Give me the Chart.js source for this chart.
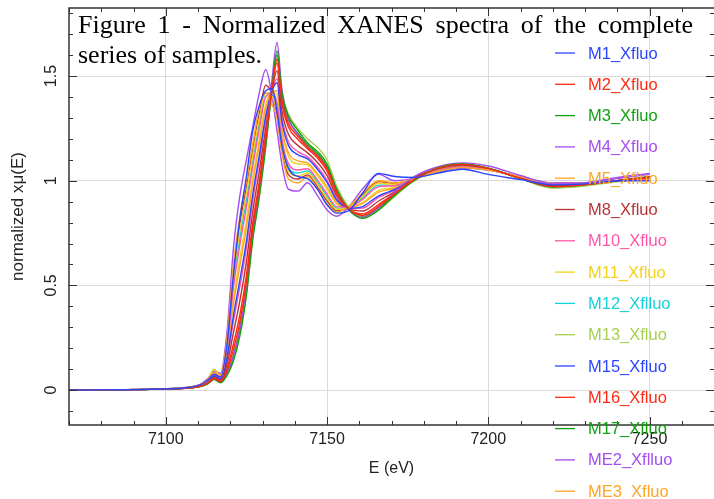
<!DOCTYPE html>
<html>
<head>
<meta charset="utf-8">
<script src="https://cdn.jsdelivr.net/npm/chart.js@4"></script>
<style>
  html, body { margin: 0; padding: 0; background: #fff; }
  #wrap { width: 714px; height: 499px; position: relative; }
</style>
</head>
<body>
<div id="wrap"><canvas id="xanes"></canvas></div>
<script>
// energy grid (eV)
const energy = [7070, 7095, 7106, 7111, 7113, 7115, 7117, 7119, 7121, 7123, 7125, 7127, 7129, 7131, 7133, 7134.5, 7136, 7138, 7141, 7144, 7147, 7150, 7153, 7157, 7161, 7166, 7171, 7177, 7184, 7192, 7200, 7210, 7220, 7230, 7240, 7250];

// normalized x-mu(E), one array per sample
const m1   = [0, .004, .011, .027, .048, .074, .062, .22, .55, .82, 1.02, 1.24, 1.36, 1.43, 1.44, 1.33, 1.17, 1.06, 1.02, 1.01, .96, .885, .845, .86, .94, 1.035, 1.02, 1.015, 1.035, 1.055, 1.03, 1.005, .98, .985, 1.0, 1.0];
const m2   = [0, .003, .008, .019, .033, .054, .040, .091, .194, .327, .515, .774, .97, 1.197, 1.445, 1.582, 1.386, 1.275, 1.211, 1.161, 1.119, 1.058, .947, .862, .834, .877, .937, 1.005, 1.058, 1.078, 1.059, 1.011, .972, .981, 1.0, 1.018];
const m3   = [0, .003, .008, .018, .030, .050, .035, .070, .140, .260, .450, .720, .920, 1.160, 1.450, 1.620, 1.420, 1.310, 1.240, 1.180, 1.140, 1.080, .960, .860, .820, .860, .930, 1.000, 1.060, 1.080, 1.060, 1.010, .970, .980, 1.000, 1.020];
const m4   = [0, .003, .008, .019, .032, .053, .038, .08, .16, .29, .48, .75, .95, 1.19, 1.49, 1.66, 1.44, 1.30, 1.22, 1.16, 1.12, 1.06, .95, .855, .825, .87, .945, 1.02, 1.065, 1.085, 1.07, 1.025, .985, .99, 1.015, 1.035];
const m5   = [0, .004, .011, .028, .051, .084, .073, .25, .60, .83, 1.00, 1.18, 1.35, 1.42, 1.36, 1.30, 1.13, 1.01, .99, 1.02, .96, .89, .85, .88, .94, 1.00, .99, 1.01, 1.043, 1.063, 1.051, 1.018, .987, .988, 1.0, 1.003];
const m8   = [0, .0033, .009, .021, .036, .060, .046, .123, .275, .428, .613, .855, 1.045, 1.253, 1.438, 1.525, 1.335, 1.223, 1.168, 1.133, 1.088, 1.025, .928, .865, .855, .903, .948, 1.015, 1.055, 1.075, 1.058, 1.013, .975, .983, 1.0, 1.015];
const m10  = [0, .004, .011, .026, .046, .076, .064, .207, .491, .696, .873, 1.071, 1.245, 1.401, 1.418, 1.373, 1.199, 1.083, 1.052, 1.057, 1.004, .937, .876, .873, .911, .971, .976, 1.01, 1.047, 1.067, 1.054, 1.017, .983, .987, 1.0, 1.007];
const m11  = [0, .004, .011, .027, .049, .098, .069, .228, .545, .763, .938, 1.125, 1.295, 1.42, 1.40, 1.335, 1.165, 1.048, 1.023, 1.038, .983, .915, .863, .875, .925, .988, .983, 1.005, 1.045, 1.065, 1.053, 1.018, .985, .988, 1.0, 1.005];
const m12  = [0, .004, .011, .026, .048, .100, .067, .217, .518, .729, .905, 1.098, 1.27, 1.419, 1.415, 1.354, 1.182, 1.065, 1.037, 1.047, .993, .926, .869, .874, .918, .979, .979, 1.01, 1.046, 1.066, 1.053, 1.017, .984, .987, 1.0, 1.006];
const m13  = [0, .003, .008, .018, .031, .052, .037, .075, .15, .275, .465, .735, .935, 1.17, 1.44, 1.58, 1.42, 1.32, 1.25, 1.20, 1.16, 1.10, .975, .87, .825, .86, .925, 1.0, 1.05, 1.075, 1.06, 1.01, .965, .975, .995, 1.01];
const m15  = [0, .0034, .0096, .023, .040, .066, .053, .154, .356, .528, .71, .936, 1.12, 1.308, 1.43, 1.468, 1.284, 1.17, 1.124, 1.104, 1.056, .992, .908, .868, .876, .928, .958, 1.01, 1.052, 1.072, 1.056, 1.014, .978, .984, 1.0, 1.012];
const m16  = [0, .0032, .0086, .0198, .034, .056, .042, .102, .221, .361, .548, .801, .995, 1.216, 1.443, 1.563, 1.369, 1.258, 1.197, 1.152, 1.109, 1.047, .941, .863, .841, .886, .941, 1.01, 1.057, 1.077, 1.059, 1.012, .973, .982, 1.0, 1.017];
const m17  = [0, .003, .008, .0186, .031, .052, .037, .081, .167, .294, .483, .747, .945, 1.179, 1.448, 1.601, 1.403, 1.293, 1.226, 1.171, 1.130, 1.069, .954, .861, .827, .869, .934, 1.01, 1.059, 1.079, 1.060, 1.011, .971, .981, 1.0, 1.019];
const me2  = [0, .004, .012, .030, .055, .090, .080, .280, .680, .930, 1.100, 1.260, 1.420, 1.530, 1.400, 1.240, 1.080, .960, .950, .990, .930, .860, .830, .880, .960, 1.030, 1.000, 1.010, 1.040, 1.060, 1.050, 1.020, .990, .990, 1.010, 1.030];
const me3  = [0, .0035, .010, .024, .043, .070, .058, .175, .41, .595, .775, .99, 1.17, 1.345, 1.425, 1.43, 1.25, 1.135, 1.095, 1.085, 1.035, .97, .895, .87, .89, .945, .965, 1.01, 1.05, 1.07, 1.055, 1.015, .98, .985, 1.0, 1.01];
const me4  = [0, .004, .011, .028, .050, .082, .071, .238, .572, .796, .97, 1.152, 1.32, 1.456, 1.41, 1.316, 1.148, 1.03, 1.008, 1.028, .972, .904, .856, .876, .932, .996, .986, 1.01, 1.044, 1.064, 1.052, 1.018, .986, .988, 1.0, 1.004];
const me5  = [0, .0033, .0094, .022, .039, .064, .051, .144, .329, .495, .678, .909, 1.095, 1.29, 1.433, 1.487, 1.301, 1.188, 1.139, 1.114, 1.067, 1.003, .915, .867, .869, .92, .955, 1.01, 1.053, 1.073, 1.057, 1.014, .977, .984, 1.0, 1.013];
const me6  = [0, .004, .010, .025, .044, .072, .060, .186, .437, .629, .808, 1.017, 1.195, 1.364, 1.423, 1.411, 1.233, 1.118, 1.081, 1.076, 1.025, .959, .889, .871, .897, .954, .969, 1.01, 1.049, 1.069, 1.055, 1.016, .981, .986, 1.0, 1.009];

const seriesNames  = ["M1_Xfluo", "M2_Xfluo", "M3_Xfluo", "M4_Xfluo", "M5_Xfluo", "M8_Xfluo", "M10_Xfluo", "M11_Xfluo", "M12_Xflluo", "M13_Xfluo", "M15_Xfluo", "M16_Xfluo", "M17_Xfluo", "ME2_Xflluo", "ME3_Xfluo", "ME4_Xfluo", "ME5_Xfluo", "ME6_Xfluo"];
const seriesValues = [m1, m2, m3, m4, m5, m8, m10, m11, m12, m13, m15, m16, m17, me2, me3, me4, me5, me6];
const palette = ["#2a45ff", "#ff2a12", "#12a012", "#a64cf0", "#ffa526", "#b83434", "#ff55aa", "#f2d21a", "#14d2d8", "#a8d050"];

const xTicks = [7100, 7150, 7200, 7250];
const yTicks = [0, 0.5, 1, 1.5];
const yTickLabels = ["0", "0.5", "1", "1.5"];

const titleLines = ["Figure 1 - Normalized XANES spectra of the complete", "series of samples."];

const axisColor = "#333";
const sansFont = "'Liberation Sans', Arial, sans-serif";

// draws a line of text spread out to a given width (justified)
function justifiedText(ctx, text, x, y, width) {
    const words = text.split(" ");
    const used = words.reduce((s, w) => s + ctx.measureText(w).width, 0);
    const gap = (width - used) / (words.length - 1);
    let cx = x;
    words.forEach(w => {
        ctx.fillText(w, cx, y);
        cx += ctx.measureText(w).width + gap;
    });
}

// frame, inside tick marks, rotated y labels, legend and caption
const decorations = {
    id: "decorations",
    afterDatasetsDraw(chart) {
        const { ctx, chartArea: a, scales: { x, y } } = chart;
        ctx.save();

        // tick marks pointing inward, minor every 10 eV / 0.1
        ctx.strokeStyle = axisColor;
        ctx.lineWidth = 1;
        ctx.beginPath();
        for (let e = 7070; e <= 7270; e += 10) {
            const px = Math.round(x.getPixelForValue(e)) + 0.5;
            const len = e % 50 === 0 ? 8 : 4;
            ctx.moveTo(px, a.bottom); ctx.lineTo(px, a.bottom - len);
            ctx.moveTo(px, a.top); ctx.lineTo(px, a.top + len);
        }
        for (let k = -1; k <= 18; k++) {
            const py = Math.round(y.getPixelForValue(k / 10)) + 0.5;
            const len = k % 5 === 0 ? 8 : 4;
            ctx.moveTo(a.left, py); ctx.lineTo(a.left + len, py);
            ctx.moveTo(a.right, py); ctx.lineTo(a.right - len, py);
        }
        ctx.stroke();

        // box (right side falls just outside the window)
        ctx.lineWidth = 1.5;
        ctx.strokeRect(a.left, a.top, a.right - a.left + 1, a.bottom - a.top);

        // y tick labels, rotated like the original
        ctx.fillStyle = "#222";
        ctx.font = "16px " + sansFont;
        ctx.textAlign = "center";
        ctx.textBaseline = "middle";
        yTicks.forEach((v, i) => {
            ctx.save();
            ctx.translate(52, y.getPixelForValue(v));
            ctx.rotate(-Math.PI / 2);
            ctx.fillText(yTickLabels[i], 0, 0);
            ctx.restore();
        });

        // legend inside the plot
        ctx.textAlign = "left";
        ctx.font = "16.5px " + sansFont;
        seriesNames.forEach((name, i) => {
            const cy = 53 + i * 31.3;
            const col = palette[i % palette.length];
            ctx.strokeStyle = col;
            ctx.lineWidth = 1.3;
            ctx.beginPath();
            ctx.moveTo(555, cy); ctx.lineTo(575, cy);
            ctx.stroke();
            ctx.fillStyle = col;
            ctx.fillText(name, 588, cy + 1);
        });

        // caption over the plot, first line justified
        ctx.fillStyle = "#000";
        ctx.font = "26px 'Liberation Serif', 'Times New Roman', serif";
        ctx.textBaseline = "alphabetic";
        justifiedText(ctx, titleLines[0], 78, 33, 615);
        ctx.fillText(titleLines[1], 78, 62.5);

        ctx.restore();
    }
};

const datasets = seriesValues.map((vals, i) => ({
    label: seriesNames[i],
    data: vals.map((v, j) => ({ x: energy[j], y: v })),
    borderColor: palette[i % palette.length],
    borderWidth: 1.4,
    pointRadius: 0,
    fill: false,
    cubicInterpolationMode: "monotone"
}));

Chart.defaults.font.family = sansFont;
Chart.defaults.font.size = 16;
Chart.defaults.color = "#222";

new Chart(document.getElementById("xanes"), {
    type: "line",
    data: { datasets },
    options: {
        responsive: true,
        maintainAspectRatio: false,
        animation: false,
        layout: { padding: { top: 8, right: 0, left: 0, bottom: 0 } },
        plugins: { legend: { display: false }, tooltip: { enabled: false } },
        scales: {
            x: {
                type: "linear",
                min: 7070,
                max: 7270,
                afterBuildTicks: s => { s.ticks = xTicks.map(v => ({ value: v })); },
                afterFit: s => { s.height = 74; },
                ticks: { padding: 5, color: "#222", callback: v => String(v) },
                grid: { color: "#dadada", lineWidth: 1, drawTicks: false },
                border: { display: false },
                title: { display: true, text: "E (eV)", color: "#222", padding: { top: 0, bottom: 21 } }
            },
            y: {
                type: "linear",
                min: -0.167,
                max: 1.825,
                afterBuildTicks: s => { s.ticks = yTicks.map(v => ({ value: v })); },
                afterFit: s => { s.width = 69; },
                ticks: { display: false },
                grid: { color: "#dadada", lineWidth: 1, drawTicks: false },
                border: { display: false },
                title: { display: true, text: "normalized x\u03bc(E)", color: "#222", font: { size: 17 }, padding: { top: 8, bottom: 0 } }
            }
        }
    },
    plugins: [decorations]
});
</script>
</body>
</html>
